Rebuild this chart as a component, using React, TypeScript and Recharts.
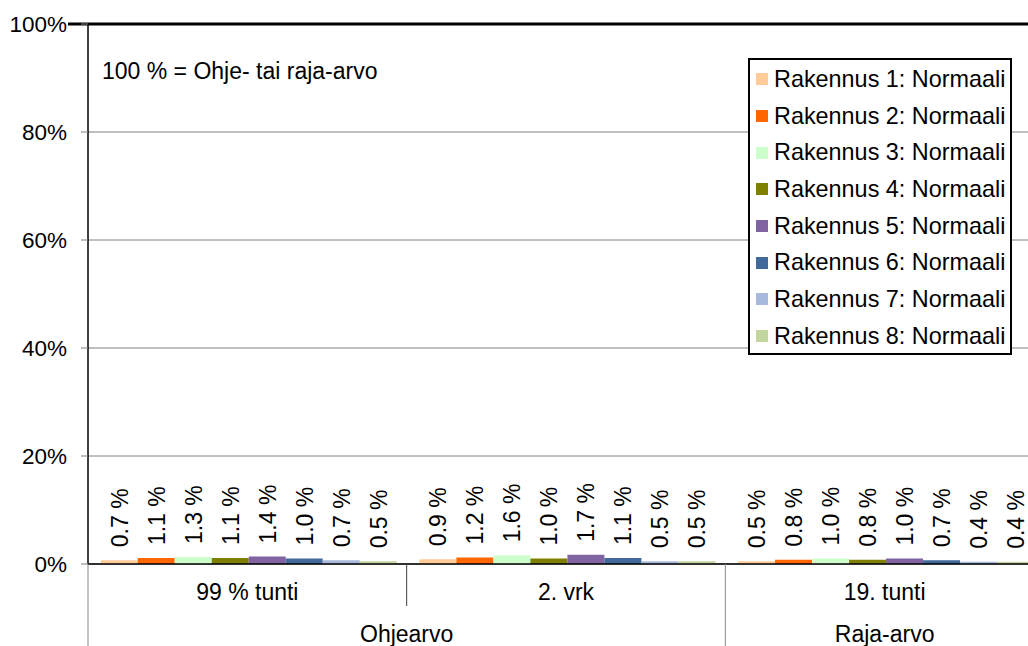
import React from 'react';
import {
  BarChart,
  Bar,
  XAxis,
  YAxis,
  CartesianGrid,
  Legend,
  LabelList,
  ReferenceLine,
} from 'recharts';

// Inner category labels and the outer group each one belongs to
const categories = ['99 % tunti', '2. vrk', '19. tunti'];
const groups = ['Ohjearvo', 'Ohjearvo', 'Raja-arvo'];

// Share of the guide / limit value per building (%)
const rakennus1 = [0.7, 0.9, 0.5];
const rakennus2 = [1.1, 1.2, 0.8];
const rakennus3 = [1.3, 1.6, 1.0];
const rakennus4 = [1.1, 1.0, 0.8];
const rakennus5 = [1.4, 1.7, 1.0];
const rakennus6 = [1.0, 1.1, 0.7];
const rakennus7 = [0.7, 0.5, 0.4];
const rakennus8 = [0.5, 0.5, 0.4];

const seriesNames = [
  'Rakennus 1: Normaali',
  'Rakennus 2: Normaali',
  'Rakennus 3: Normaali',
  'Rakennus 4: Normaali',
  'Rakennus 5: Normaali',
  'Rakennus 6: Normaali',
  'Rakennus 7: Normaali',
  'Rakennus 8: Normaali',
];
const seriesValues = [
  rakennus1,
  rakennus2,
  rakennus3,
  rakennus4,
  rakennus5,
  rakennus6,
  rakennus7,
  rakennus8,
];
const seriesColors = [
  '#FFCC99',
  '#FF6600',
  '#CCFFCC',
  '#808000',
  '#8064A2',
  '#41699A',
  '#A8BADB',
  '#C3D69F',
];

const yTicks = [0, 20, 40, 60, 80, 100];
const noteText = '100 % = Ohje- tai raja-arvo';

const FONT = '"Liberation Sans", Arial, sans-serif';

const rows = categories.map((name, i) => {
  const row: Record<string, string | number> = { name, group: groups[i] };
  seriesValues.forEach((vals, s) => {
    row[`s${s}`] = vals[i];
  });
  return row;
});

// Two-level category axis: inner labels, separators and outer group labels
const CategoryTick = (props: any) => {
  const { x, y, payload } = props;
  const half: number = payload.offset;
  const i: number = payload.index;
  const grp = groups[i];
  const lastInGroup = i === categories.length - 1 || groups[i + 1] !== grp;
  const left = x - half;
  const right = x + half;
  const groupSize = groups.filter((g) => g === grp).length;
  const groupLeft = right - groupSize * 2 * half;
  return (
    <g>
      <text
        x={x}
        y={y + 36}
        textAnchor="middle"
        fill="#000"
        fontSize={23}
        fontFamily={FONT}
      >
        {payload.value}
      </text>
      {i === 0 && (
        <line x1={left} y1={y} x2={left} y2={y + 100} stroke="#8a8a8a" strokeWidth={1} />
      )}
      {lastInGroup ? (
        <>
          <line x1={right} y1={y} x2={right} y2={y + 100} stroke="#8a8a8a" strokeWidth={1} />
          <text
            x={(groupLeft + right) / 2}
            y={y + 78}
            textAnchor="middle"
            fill="#000"
            fontSize={23}
            fontFamily={FONT}
          >
            {grp}
          </text>
        </>
      ) : (
        <line x1={right} y1={y} x2={right} y2={y + 42} stroke="#404040" strokeWidth={1} />
      )}
    </g>
  );
};

// Vertical value label just above each bar
const ValueLabel = (props: any) => {
  const { x, y, width, value } = props;
  const cx = x + width / 2;
  const ty = y - 13;
  return (
    <text
      x={cx}
      y={ty}
      dy="0.36em"
      transform={`rotate(-90, ${cx}, ${ty})`}
      textAnchor="start"
      fill="#000"
      fontSize={23}
      fontFamily={FONT}
    >
      {`${Number(value).toFixed(1)} %`}
    </text>
  );
};

const LegendBox = (props: any) => {
  const { payload } = props;
  return (
    <div
      style={{
        boxSizing: 'border-box',
        width: 264,
        height: 297,
        border: '2px solid #000',
        background: '#fff',
        padding: '1px 0 0 0',
        fontFamily: FONT,
        fontSize: 23.4,
        color: '#000',
      }}
    >
      {(payload || []).map((entry: any) => (
        <div
          key={entry.value}
          style={{
            display: 'flex',
            alignItems: 'center',
            height: 36.7,
            whiteSpace: 'nowrap',
          }}
        >
          <span
            style={{
              display: 'inline-block',
              width: 12,
              height: 12,
              marginLeft: 6,
              marginRight: 6,
              background: entry.color,
            }}
          />
          <span>{entry.value}</span>
        </div>
      ))}
    </div>
  );
};

const TopLine = (props: any) => {
  const { x1, y1, x2, y2 } = props;
  return <line x1={x1 - 20} y1={y1} x2={x2} y2={y2} stroke="#000" strokeWidth={3} />;
};

export default function App() {
  return (
    <div
      style={{
        position: 'absolute',
        left: 0,
        top: 0,
        width: 1028,
        height: 646,
        overflow: 'hidden',
        background: '#fff',
        fontFamily: FONT,
      }}
    >
      <BarChart
        width={1060}
        height={700}
        data={rows}
        margin={{ top: 24, right: 16, left: 8, bottom: 36 }}
        barCategoryGap="4%"
        barGap={0}
      >
        <CartesianGrid vertical={false} stroke="#808080" />
        <XAxis
          dataKey="name"
          axisLine={{ stroke: '#000', strokeWidth: 1.5 }}
          tickLine={false}
          tickSize={0}
          tickMargin={0}
          height={100}
          interval={0}
          tick={<CategoryTick />}
        />
        <YAxis
          domain={[0, 100]}
          ticks={yTicks}
          interval={0}
          width={80}
          tickSize={7}
          tickMargin={14}
          tickFormatter={(v: number) => `${v}%`}
          axisLine={{ stroke: '#000', strokeWidth: 1.5 }}
          tickLine={{ stroke: '#808080' }}
          tick={{ fill: '#000', fontSize: 22.5, fontFamily: FONT }}
        />
        <ReferenceLine y={100} shape={<TopLine />} ifOverflow="visible" />
        <Legend
          layout="vertical"
          align="center"
          verticalAlign="middle"
          content={<LegendBox />}
          wrapperStyle={{ position: 'absolute', left: 748, top: 58, width: 264, height: 297 }}
        />
        {seriesNames.map((name, s) => (
          <Bar
            key={name}
            dataKey={`s${s}`}
            name={name}
            fill={seriesColors[s]}
            isAnimationActive={false}
          >
            <LabelList dataKey={`s${s}`} content={<ValueLabel />} />
          </Bar>
        ))}
      </BarChart>
      <div
        style={{
          position: 'absolute',
          left: 102,
          top: 60,
          fontSize: 23,
          lineHeight: '23px',
          color: '#000',
          whiteSpace: 'nowrap',
          fontFamily: FONT,
        }}
      >
        {noteText}
      </div>
    </div>
  );
}
